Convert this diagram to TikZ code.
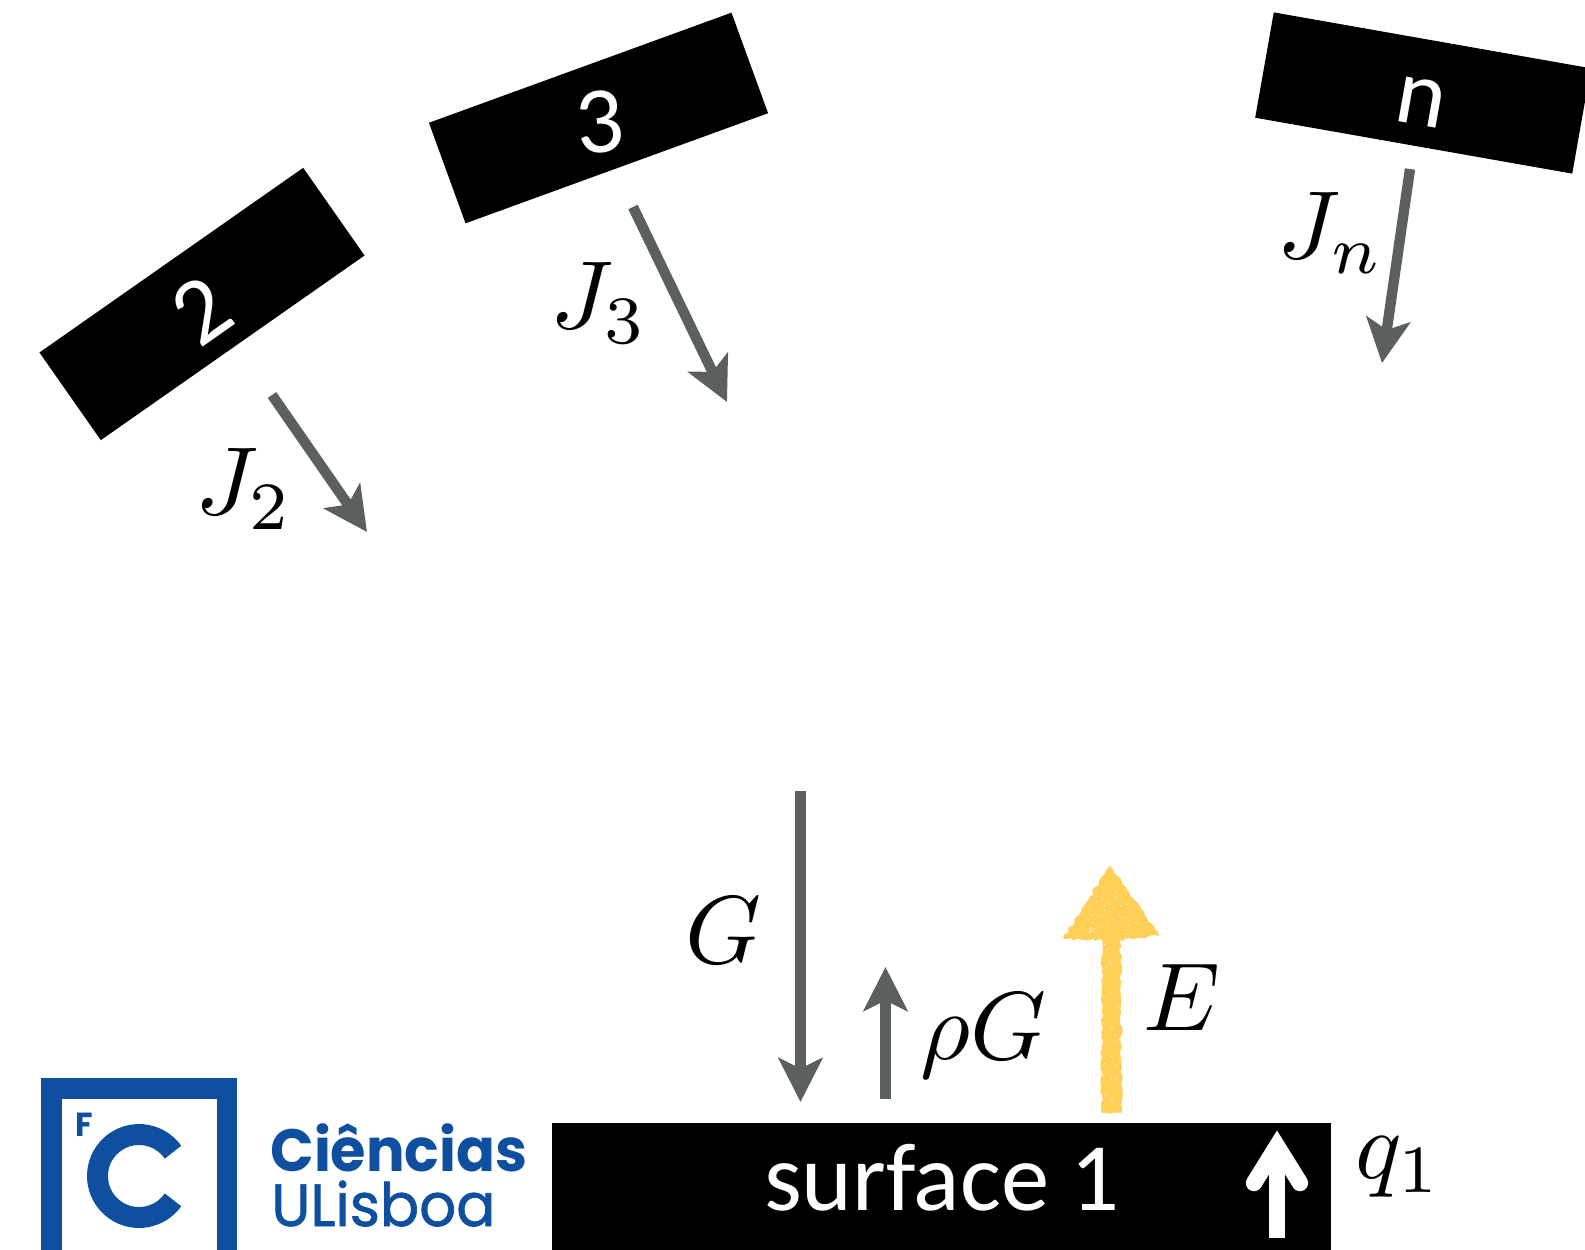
\documentclass[tikz,border=0pt]{standalone}
\usepackage{amsmath,amssymb}
\usepackage[no-math]{fontspec}
\usetikzlibrary{arrows.meta,decorations.pathmorphing}
\newfontfamily\labelfont{Carlito}
\newfontfamily\logofont[FakeStretch=0.96]{Poppins}
\newfontfamily\logomed[FakeBold=1.2,FakeStretch=0.97]{Poppins}
\definecolor{fluxgray}{HTML}{5B5F5E}
\definecolor{chalk}{HTML}{FFCF57}
\definecolor{logoblue}{HTML}{0F4FA0}

\begin{document}
\begin{tikzpicture}[x=0.02cm, y=-0.02cm,
  slab/.style={fill=black, inner sep=0pt, minimum width=6.44cm, minimum height=2.14cm},
  slabtext/.style={text=white, inner sep=0pt, font=\labelfont\fontsize{54}{60}\selectfont},
  flux/.style={draw=fluxgray, line width=5.9pt, -{Stealth[length=25pt, width=25pt, inset=6pt]}},
  sym/.style={inner sep=0pt, scale=5.5}]

  \useasboundingbox (0,0) rectangle (1585,1250);

  % 1. Surfaces inclinees
  \node[slab, rotate=35] (S2) at (202,304) {};
  \node[slab, rotate=20] (S3) at (598.5,118) {};
  \node[slab, rotate=-10] (Sn) at (1423,93) {};
  \node[slabtext, rotate=35] (L2) at (202,310) {2};
  \node[slabtext, rotate=5] (L3) at (600,122) {3};
  \node[slabtext, rotate=-10] (Ln) at (1421,102) {n};

  % 2. Flux J
  \coordinate (J2a) at (272,395);
  \coordinate (J2b) at (367,532);
  \coordinate (J3a) at (633,207);
  \coordinate (J3b) at (727,402);
  \coordinate (Jna) at (1410,169);
  \coordinate (Jnb) at (1382,363);
  \draw[flux] (J2a) -- (J2b);
  \draw[flux] (J3a) -- (J3b);
  \draw[flux] (Jna) -- (Jnb);
  \node[sym] (TJ2) at (244,489) {$J_2$};
  \node[sym] (TJ3) at (599,303) {$J_3$};
  \node[sym] (TJn) at (1331,233) {$J_n$};

  % 3. Surface 1
  \node[fill=black, inner sep=0pt, minimum width=15.58cm, minimum height=2.58cm] (S1) at (941.5,1187) {};
  \node[slabtext, font=\labelfont\fontsize{55}{60}\selectfont, anchor=base] (L1) at (942,1210) {surface 1};

  % 4. Flux G, rho G
  \coordinate (Ga) at (800.5,791);
  \coordinate (Gb) at (800.5,1102);
  \coordinate (Ra) at (885.5,1099);
  \coordinate (Rb) at (885.5,967);
  \draw[flux] (Ga) -- (Gb);
  \draw[flux] (Ra) -- (Rb);
  \node[sym] (TG) at (723,930) {$G$};
  \node[sym] (TR) at (983,1036) {$\rho G$};

  % 5. Emission (fleche a la craie)
  \pgfmathsetseed{7}
  \fill[chalk, draw=chalk, line width=0.8pt, decorate, decoration={random steps, segment length=2pt, amplitude=0.8pt}]
    (1110,867) -- (1158,935) -- (1120,939) -- (1121,1112) -- (1102,1112) -- (1103,939) -- (1064,938) -- cycle;
  \foreach \i in {1,...,40}
    \fill[white] (1110+24*rand,912+22*rand) circle (0.6);
  \foreach \i in {1,...,30}
    \fill[white] (1111+9*rand,1020+90*rand) circle (0.6);
  \node[sym] (TE) at (1182,997) {$E$};

  % 6. Flux net q1
  \draw[white, line width=9.3pt, line cap=round, miter limit=10] (1254,1183) -- (1277,1146) -- (1300,1183);
  \draw[white, line width=9.5pt] (1277,1160) -- (1277,1238);
  \node[sym] (TQ) at (1399,1167) {$q_1$};

  % 7. Logo
  \draw[logoblue, line width=11.7pt] (51.5,1260) |- (227,1088.5) -- (227,1260);
  \draw[logoblue, line width=11.9pt] (139,1176) ++(35:41.5) arc[start angle=35, end angle=325, radius=41.5];
  \node[inner sep=0pt, text=logoblue, anchor=base west, font=\logofont\bfseries\fontsize{19}{20}\selectfont] (LF) at (75,1136) {F};
  \node[inner sep=0pt, text=logoblue, anchor=base west, font=\logofont\bfseries\fontsize{34}{40}\selectfont] (LC) at (270,1171) {Ciências};
  \node[inner sep=0pt, text=logoblue, anchor=base west, font=\logomed\fontsize{34}{40}\selectfont] (LU) at (271,1226) {ULisboa};

\end{tikzpicture}
\end{document}
